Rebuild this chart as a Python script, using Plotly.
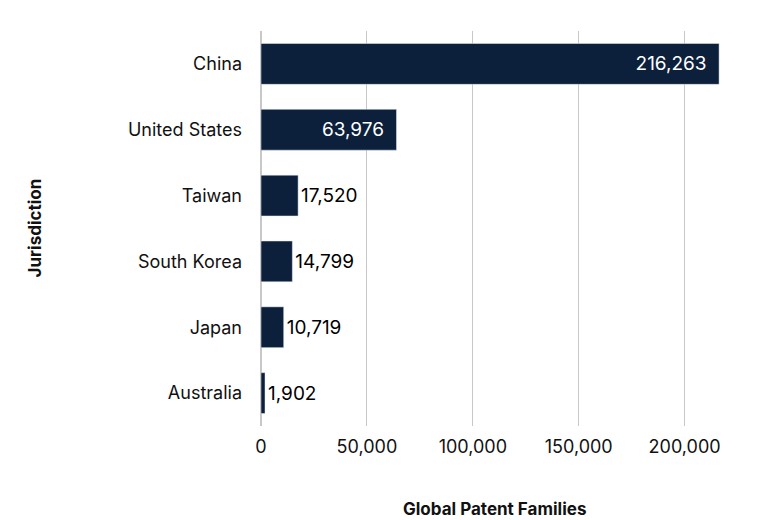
import plotly.graph_objects as go

jurisdictions = ["China", "United States", "Taiwan", "South Korea", "Japan", "Australia"]
families = [216263, 63976, 17520, 14799, 10719, 1902]
tick_vals = [0, 50000, 100000, 150000, 200000]
tick_text = ["0", "50,000", "100,000", "150,000", "200,000"]

labels = [f"{v:,}\u2002" if v > 50000 else f"{v:,}" for v in families]
positions = ["inside" if v > 50000 else "outside" for v in families]
text_colors = ["white" if v > 50000 else "black" for v in families]

fig = go.Figure(go.Bar(
    x=families, y=jurisdictions, orientation="h",
    marker_color="#0c1f3b",
    text=labels, textposition=positions,
    insidetextanchor="end",
    textfont=dict(size=19, color=text_colors, family="Inter"),
    cliponaxis=False,
))
fig.update_layout(
    width=780, height=520,
    margin=dict(l=253, r=61, t=23, b=102),
    plot_bgcolor="white", paper_bgcolor="white",
    bargap=0.38,
    font=dict(family="Inter", size=18, color="#111"),
    showlegend=False,
    annotations=[
        dict(text="<b>Global Patent Families</b>", x=0.5, y=-0.21, xref="paper", yref="paper",
             xanchor="center", yanchor="middle", showarrow=False, font=dict(size=17)),
        dict(text="<b>Jurisdiction</b>", x=26, y=0.5, xref="paper", yref="paper", textangle=-90,
             xanchor="center", yanchor="middle", showarrow=False, font=dict(size=17)),
    ],
)
fig.layout.annotations[1].update(x=-(253 - 26) / (780 - 253 - 61))
fig.update_xaxes(range=[0, 220000], tickvals=tick_vals, ticktext=tick_text,
                 showgrid=True, gridcolor="#c8c8c8", gridwidth=1,
                 zeroline=True, zerolinecolor="#c8c8c8",
                 ticks="", ticklabelstandoff=8, automargin=False)
fig.update_yaxes(autorange="reversed", ticks="", ticklabelstandoff=18, automargin=False)
fig.write_html("out.html")
